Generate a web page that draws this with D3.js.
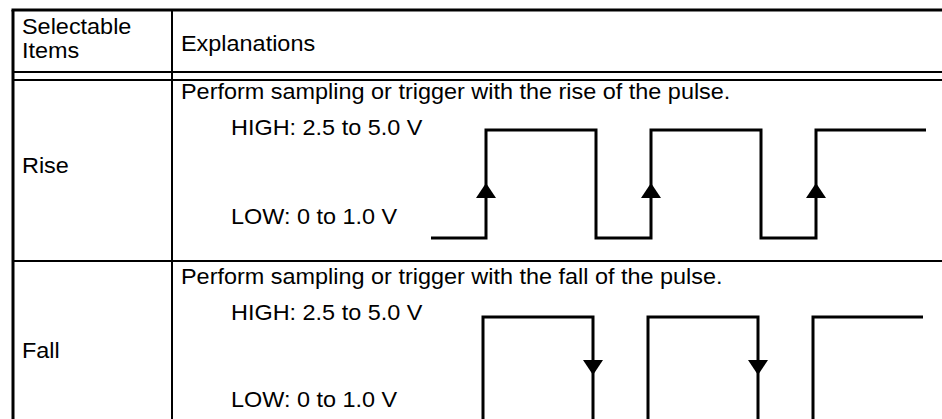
<!DOCTYPE html>
<html>
<head>
<meta charset="utf-8">
<script src="https://cdn.jsdelivr.net/npm/d3@7"></script>
<style>
  html, body { margin: 0; padding: 0; background: #fff; }
  svg { display: block; }
  text { font-family: "Liberation Sans", Arial, Helvetica, sans-serif; fill: #000; }
</style>
</head>
<body>
<svg id="chart" width="942" height="419"></svg>
<script>
// ---- data ----
const headerItems = ["Selectable", "Items"];
const headerExplain = "Explanations";
const items = ["Rise", "Fall"];
const explanations = [
  "Perform sampling or trigger with the rise of the pulse.",
  "Perform sampling or trigger with the fall of the pulse."
];
const levelLabels = ["HIGH: 2.5 to 5.0 V", "LOW: 0 to 1.0 V"];
// pulse edges (time units) and level of each segment (0 = LOW, 1 = HIGH)
const pulseTimes = [0, 0.5, 1.5, 2, 3, 3.5, 4.5];
const pulseLevels = [0, 1, 0, 1, 0, 1];
const triggerEdge = ["rise", "fall"];

// ---- layout ----
const W = 942, H = 419;
const svg = d3.select("#chart");
const fontSize = 22;
const stretch = 1.065;
const tableLeft = 13, tableTop = 10, colX = 172;
const headLine1 = 72, headLine2 = 80;
const rowTops = [80, 261];
const rowShift = 185;
const waveShift = 187;

function label(x, y, str) {
  svg.append("text")
    .attr("transform", `translate(${x},${y}) scale(${stretch},1)`)
    .attr("font-size", fontSize)
    .text(str);
}

// table lines
const g = svg.append("g");
g.append("line").attr("x1", tableLeft - 1.5).attr("x2", W).attr("y1", tableTop).attr("y2", tableTop)
  .attr("stroke", "#000").attr("stroke-width", 3);
g.append("line").attr("x1", tableLeft).attr("x2", tableLeft).attr("y1", tableTop).attr("y2", H)
  .attr("stroke", "#000").attr("stroke-width", 3);
g.append("line").attr("x1", colX).attr("x2", colX).attr("y1", tableTop).attr("y2", H)
  .attr("stroke", "#000").attr("stroke-width", 2);
[headLine1, headLine2, rowTops[1]].forEach(y => {
  g.append("line").attr("x1", tableLeft).attr("x2", W).attr("y1", y).attr("y2", y)
    .attr("stroke", "#000").attr("stroke-width", 2);
});

// header text
headerItems.forEach((t, i) => label(22, 34 + i * 24, t));
label(181, 51, headerExplain);

// rows
items.forEach((item, r) => {
  const dy = r * rowShift;
  label(22, 173 + dy, item);
  label(181, 99 + dy, explanations[r]);
  label(231, 135 + dy, levelLabels[0]);
  label(231, 224 + dy - r * 2, levelLabels[1]);

  const wdy = r * waveShift;
  const x0 = 431 - r * 3;
  const x = d3.scaleLinear().domain([0, 4.5]).range([x0, x0 + 495]);
  const y = d3.scaleLinear().domain([0, 1]).range([238 + wdy, 130 + wdy]);

  const pts = pulseLevels.map((lv, i) => [pulseTimes[i], lv]);
  pts.push([pulseTimes[pulseTimes.length - 1], pulseLevels[pulseLevels.length - 1]]);
  const line = d3.line().x(d => x(d[0])).y(d => y(d[1])).curve(d3.curveStepAfter);
  svg.append("path").attr("d", line(pts)).attr("fill", "none")
    .attr("stroke", "#000").attr("stroke-width", 3).attr("stroke-linejoin", "miter")
    .attr("stroke-linecap", "butt");

  // trigger arrows
  const edges = [];
  for (let i = 1; i < pulseLevels.length; i++) {
    const up = pulseLevels[i] > pulseLevels[i - 1];
    if ((triggerEdge[r] === "rise" && up) || (triggerEdge[r] === "fall" && !up)) edges.push(pulseTimes[i]);
  }
  edges.forEach(t => {
    const cx = x(t);
    if (triggerEdge[r] === "rise") {
      const tip = y(0.5) - 1;
      svg.append("path").attr("d", `M${cx},${tip} L${cx - 10},${tip + 15} L${cx + 10},${tip + 15} Z`).attr("fill", "#000");
    } else {
      const tip = y(0.5) + 4;
      svg.append("path").attr("d", `M${cx},${tip} L${cx - 10},${tip - 15} L${cx + 10},${tip - 15} Z`).attr("fill", "#000");
    }
  });
});
</script>
</body>
</html>
